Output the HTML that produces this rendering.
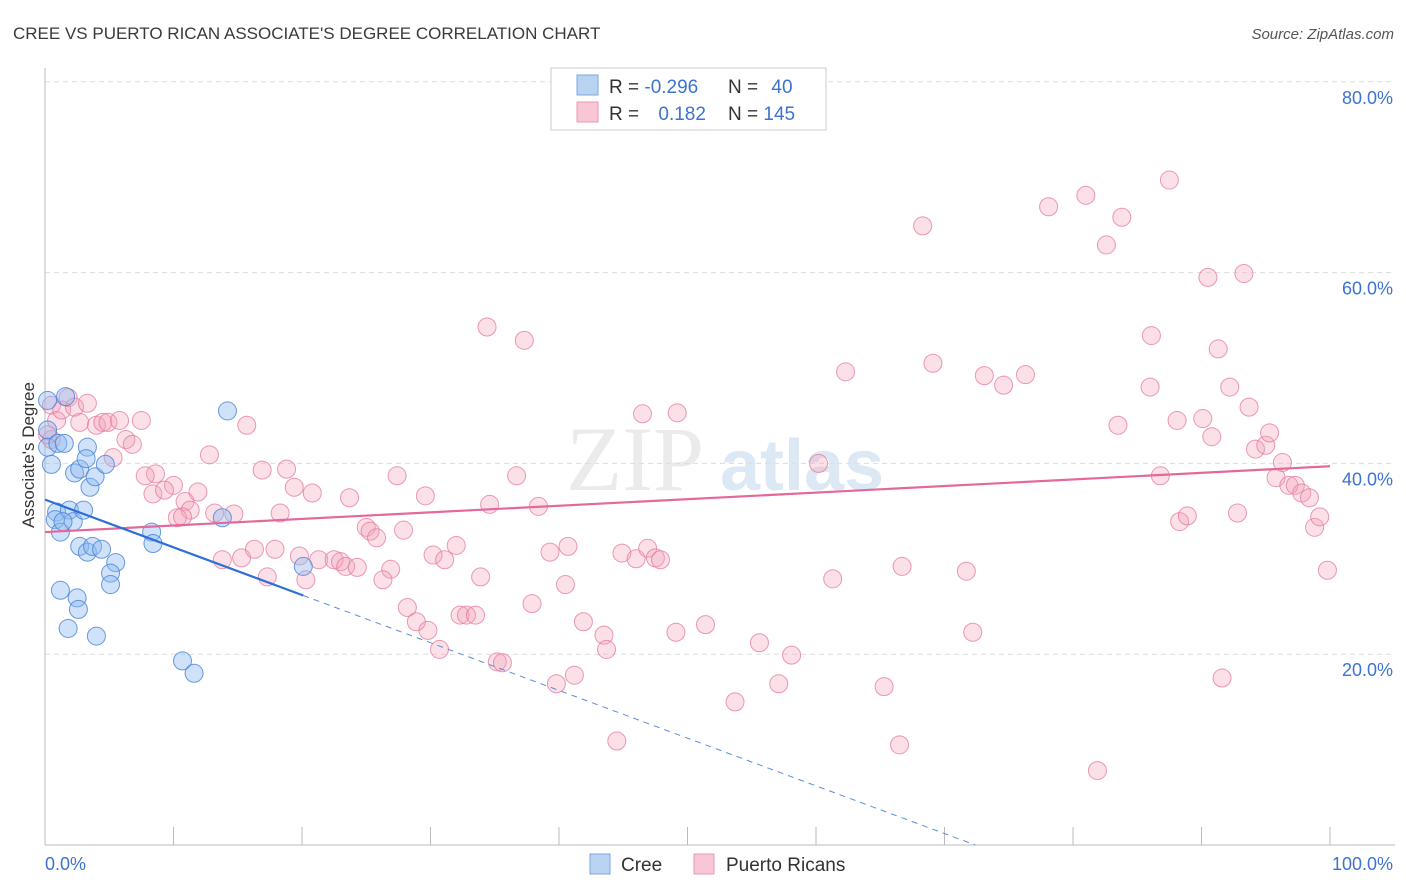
<!DOCTYPE html>
<html><head><meta charset="utf-8"><style>
body{margin:0;background:#fff;font-family:"Liberation Sans",sans-serif;}
svg{display:block}
</style></head><body>
<svg id="chart" width="1406" height="892" xmlns="http://www.w3.org/2000/svg" font-family="Liberation Sans, sans-serif">
<text x="13" y="39" font-size="17" fill="#3a3a3a">CREE VS PUERTO RICAN ASSOCIATE'S DEGREE CORRELATION CHART</text>
<text x="1394" y="39" font-size="15" fill="#555" text-anchor="end" font-style="italic">Source: ZipAtlas.com</text>
<g>
<text x="635" y="490" font-size="92" fill="#ebebeb" text-anchor="middle" font-family="Liberation Serif, serif">ZIP</text>
<text x="802" y="490" font-size="72" fill="#dde8f5" text-anchor="middle" font-weight="bold">atlas</text>
</g>
<g id="grid"></g>
<g id="axes"></g>
<g id="marks"></g>
<g>
<rect x="551" y="68" width="275" height="62" fill="#fff" stroke="#ccc"/>
<rect x="577" y="75" width="21" height="20" fill="#b9d3f3" stroke="#7ea7e0"/>
<rect x="577" y="102" width="21" height="20" fill="#f8c6d4" stroke="#eb98b2"/>
<text x="609" y="93" font-size="19" fill="#333">R = <tspan fill="#3d73d0">-0.296</tspan></text>
<text x="728" y="93" font-size="19" fill="#333">N = <tspan fill="#3d73d0" dx="8">40</tspan></text>
<text x="609" y="120" font-size="19" fill="#333">R = <tspan fill="#3d73d0" dx="14">0.182</tspan></text>
<text x="728" y="120" font-size="19" fill="#333">N = <tspan fill="#3d73d0">145</tspan></text>
</g>
<g>
<rect x="590" y="854" width="20" height="20" fill="#b9d3f3" stroke="#7ea7e0"/>
<text x="621" y="871" font-size="19" fill="#333">Cree</text>
<rect x="694" y="854" width="20" height="20" fill="#f8c6d4" stroke="#eb98b2"/>
<text x="726" y="871" font-size="19" fill="#333">Puerto Ricans</text>
</g>
<text transform="translate(34,455) rotate(-90)" font-size="17" fill="#333" text-anchor="middle">Associate's Degree</text>
</svg>
<script>
const creeX=[0.2,0.2,0.2,0.5,1.6,1.0,1.5,2.3,2.7,3.3,3.2,3.5,3.9,4.7,0.9,0.8,1.2,1.9,2.2,3.0,1.4,2.7,3.3,3.7,4.4,5.5,5.1,5.1,1.2,2.5,2.6,1.8,4.0,8.3,8.4,14.2,13.8,20.1,10.7,11.6];
const creeY=[46.6,43.5,41.7,39.9,47.0,42.1,42.1,39.0,39.4,41.7,40.5,37.5,38.6,39.9,34.9,34.1,32.8,35.1,33.9,35.1,33.9,31.3,30.7,31.3,31.0,29.6,28.5,27.3,26.7,25.9,24.7,22.7,21.9,32.8,31.6,45.5,34.3,29.2,19.3,18.0];
const prX=[0.5,0.9,1.3,1.8,2.3,3.3,2.7,4.0,4.5,4.9,5.8,7.5,6.3,6.8,5.3,0.5,12.8,15.7,8.6,7.8,10.0,8.4,9.3,11.9,10.9,11.3,10.3,10.7,13.2,14.7,16.9,18.8,19.4,18.3,20.8,23.7,27.4,29.6,34.6,38.4,36.7,13.8,15.3,16.3,17.9,17.3,19.8,20.3,21.3,22.5,23.0,23.4,24.3,25.0,25.3,25.8,27.9,26.9,26.3,28.2,28.9,29.8,30.7,30.2,31.1,32.0,33.9,32.3,32.8,33.5,35.2,35.6,37.9,39.3,40.7,40.5,39.8,41.2,41.9,43.5,43.7,44.5,44.9,46.0,46.9,47.5,47.9,46.5,49.2,49.1,51.4,53.7,55.6,57.1,58.1,60.2,61.3,62.3,65.3,66.5,66.7,68.3,69.1,71.7,72.2,73.1,74.6,76.3,78.1,81.0,82.6,83.8,81.9,83.5,86.0,86.1,86.8,87.5,88.1,88.3,88.9,90.1,90.5,90.8,91.3,92.2,91.6,92.8,93.3,93.7,94.2,95.0,95.3,95.8,96.3,96.8,97.3,97.8,98.4,98.8,99.2,99.8,34.4,37.3,0.2];
const prY=[46.1,44.5,45.6,46.9,45.9,46.3,44.3,44.0,44.3,44.3,44.5,44.5,42.5,42.0,40.6,42.5,40.9,44.0,38.9,38.7,37.7,36.8,37.2,37.0,36.0,35.1,34.3,34.4,34.8,34.7,39.3,39.4,37.5,34.8,36.9,36.4,38.7,36.6,35.7,35.5,38.7,29.9,30.1,31.0,31.0,28.1,30.3,27.8,29.9,29.9,29.7,29.2,29.1,33.3,32.9,32.2,33.0,28.9,27.8,24.9,23.4,22.5,20.5,30.4,29.9,31.4,28.1,24.1,24.1,24.1,19.2,19.1,25.3,30.7,31.3,27.3,16.9,17.8,23.4,22.0,20.5,10.9,30.6,30.0,31.1,30.1,29.9,45.2,45.3,22.3,23.1,15.0,21.2,16.9,19.9,40.0,27.9,49.6,16.6,10.5,29.2,64.9,50.5,28.7,22.3,49.2,48.2,49.3,66.9,68.1,62.9,65.8,7.8,44.0,48.0,53.4,38.7,69.7,44.5,33.9,34.5,44.7,59.5,42.8,52.0,48.0,17.5,34.8,59.9,45.9,41.5,41.9,43.2,38.5,40.1,37.7,37.7,36.9,36.4,33.3,34.4,28.8,54.3,52.9,43.0];
const yTicks=[20,40,60,80];
const yTickLabels=["20.0%","40.0%","60.0%","80.0%"];
const xTicks=[0,10,20,30,40,50,60,70,80,90,100];
const creeTrend=[36.2,-0.5]; // intercept, slope
const prTrend=[32.8,0.069];

const NS="http://www.w3.org/2000/svg";
const sx=v=>45+v*12.85;
const sy=v=>845-v*9.54;
function mk(tag,attrs,parent){const e=document.createElementNS(NS,tag);for(const k in attrs)e.setAttribute(k,attrs[k]);parent.appendChild(e);return e;}
const grid=document.getElementById('grid'),axes=document.getElementById('axes'),marks=document.getElementById('marks');
yTicks.forEach((t,i)=>{
 const g=mk('line',{x1:45,x2:1395,y1:sy(t),y2:sy(t),stroke:'#ddd','stroke-dasharray':'5,4'},grid);
 
 
 const l=mk('text',{x:1393,y:sy(t)+22,'font-size':18,fill:'#3d73d0','text-anchor':'end'},axes);
 l.textContent=yTickLabels[i];
 
 
});
const ya=mk('line',{x1:45,x2:45,y1:68,y2:845,stroke:'#bbb'},axes);


const xa=mk('line',{x1:45,x2:1395,y1:845,y2:845,stroke:'#bbb'},axes);


xTicks.forEach(t=>{
 const k=mk('line',{x1:sx(t),x2:sx(t),y1:827,y2:845,stroke:'#bbb'},axes);
 
 
});
const x0=mk('text',{x:45,y:870,'font-size':18,fill:'#3d73d0'},axes);x0.textContent='0.0%';


const x1=mk('text',{x:1393,y:870,'font-size':18,fill:'#3d73d0','text-anchor':'end'},axes);x1.textContent='100.0%';



prX.forEach((x,i)=>{
 const c=mk('circle',{cx:sx(x),cy:sy(prY[i]),r:9,fill:'rgba(244,160,186,0.33)',stroke:'rgba(228,120,155,0.75)','stroke-width':1},marks);
 
 
});
creeX.forEach((x,i)=>{
 const c=mk('circle',{cx:sx(x),cy:sy(creeY[i]),r:9,fill:'rgba(140,185,240,0.42)',stroke:'rgba(70,130,215,0.8)','stroke-width':1},marks);
 
 
});
const pl=mk('line',{x1:sx(0),y1:sy(prTrend[0]),x2:sx(100),y2:sy(prTrend[0]+prTrend[1]*100),stroke:'#e4689a','stroke-width':2.2},marks);


const cmax=Math.max(...creeX);
const cl=mk('line',{x1:sx(0),y1:sy(creeTrend[0]),x2:sx(cmax),y2:sy(creeTrend[0]+creeTrend[1]*cmax),stroke:'#2f6fd6','stroke-width':2.2},marks);


const xend=-creeTrend[0]/creeTrend[1];
const cd=mk('line',{x1:sx(cmax),y1:sy(creeTrend[0]+creeTrend[1]*cmax),x2:sx(xend),y2:sy(0),stroke:'#5b8fd9','stroke-width':1,'stroke-dasharray':'6,5'},marks);


</script>
</body></html>
